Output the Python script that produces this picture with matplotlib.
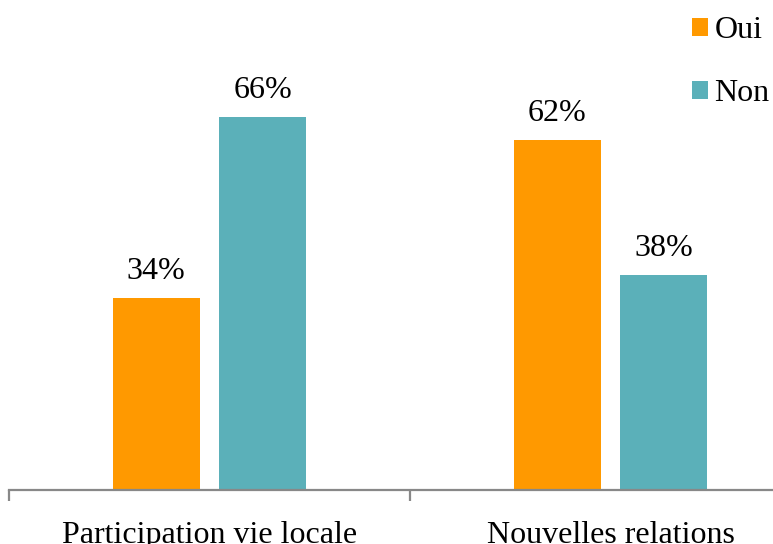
import numpy as np
import matplotlib.pyplot as plt
from matplotlib.patches import Patch

# Données
categories = ['Participation vie locale', 'Nouvelles relations']
oui = [34, 62]
non = [66, 38]
series_names = ['Oui', 'Non']
colors = ['#FF9900', '#5BB0B9']

plt.rcParams['font.family'] = ['Liberation Serif', 'DejaVu Serif']

fig = plt.figure(figsize=(7.73, 5.44), dpi=100)
ax = fig.add_axes([9 / 773, 54 / 544, 764 / 773, 490 / 544])

x = np.arange(len(categories))
width = 0.217
offset = 0.133

b1 = ax.bar(x - offset, oui, width, color=colors[0])
b2 = ax.bar(x + offset, non, width, color=colors[1])

for bars, vals in [(b1, oui), (b2, non)]:
    for rect, v in zip(bars, vals):
        ax.annotate(f'{v}%', (rect.get_x() + rect.get_width() / 2, rect.get_height()),
                    xytext=(0, 8.5), textcoords='offset points',
                    ha='center', va='bottom', fontsize=23)

for s in ['top', 'right', 'left']:
    ax.spines[s].set_visible(False)
ax.spines['bottom'].set_color('#888888')
ax.spines['bottom'].set_linewidth(1.6)
ax.set_yticks([])

ax.set_xticks(x)
ax.set_xticklabels(categories, fontsize=23)
ax.tick_params(axis='x', which='major', length=0, pad=22)
ax.set_xticks([-0.5, 0.5, 1.5], minor=True)
ax.tick_params(axis='x', which='minor', length=8, width=1.6, color='#888888', direction='out')

# limites après les ticks (set_xticks élargit la vue)
ax.set_ylim(0, 490 / 5.65)
ax.set_xlim(-0.5, -0.5 + 764 / 401)

handles = [Patch(facecolor=c, label=n) for c, n in zip(colors, series_names)]
ax.legend(handles=handles, loc='upper right', bbox_to_anchor=(1.004, 0.982),
          bbox_transform=fig.transFigure, frameon=False, fontsize=23,
          handlelength=0.5, handleheight=0.5, handletextpad=0.2,
          labelspacing=1.06, borderaxespad=0, borderpad=0.2)

fig.savefig('out.png', dpi=100)
